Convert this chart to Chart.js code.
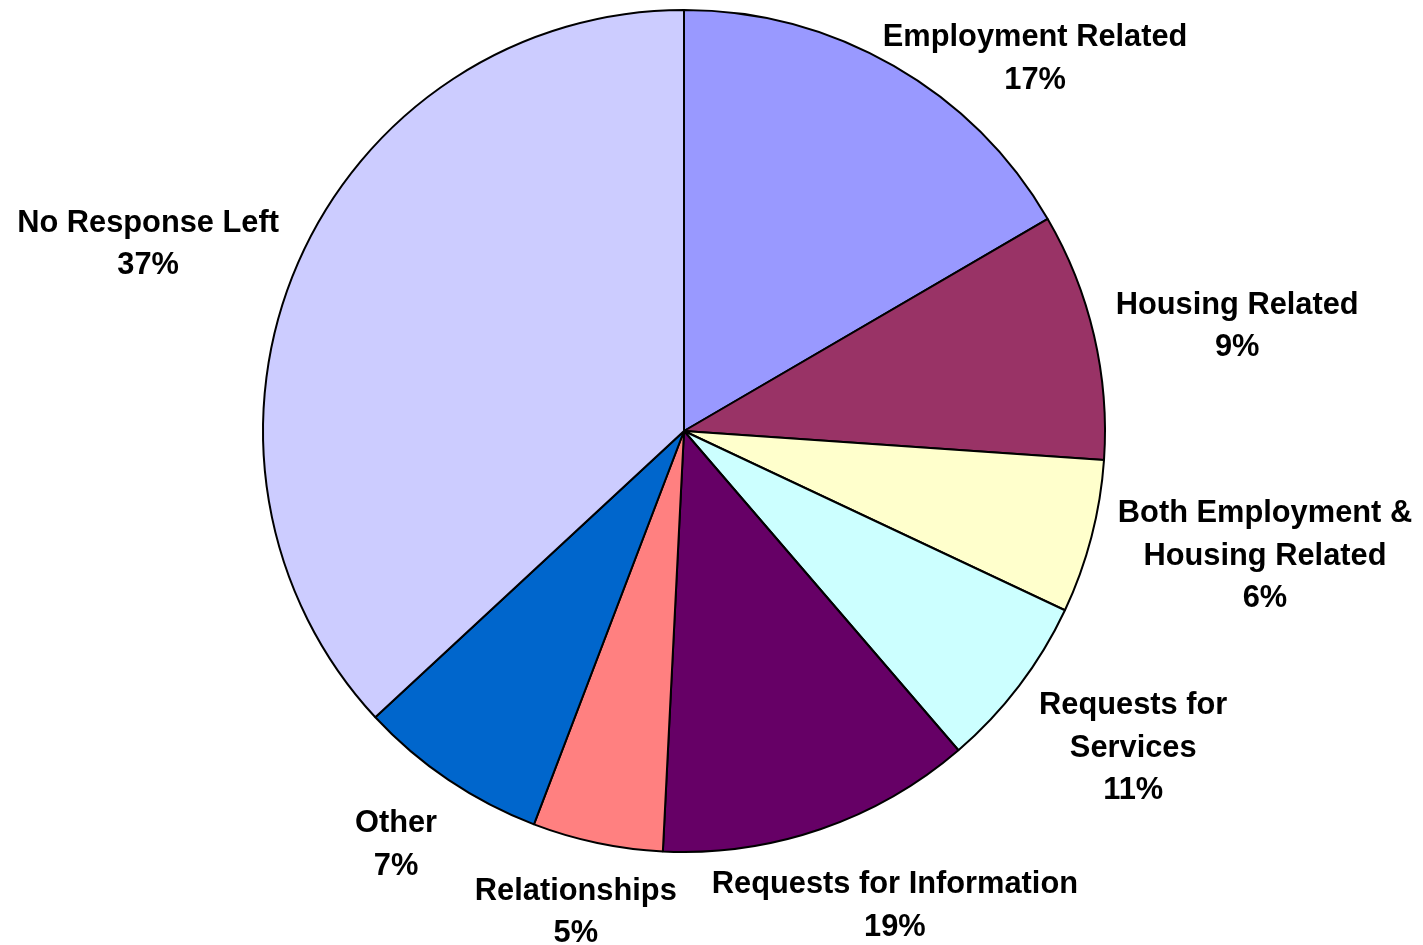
<!DOCTYPE html>
<html>
<head>
<meta charset="utf-8">
<script src="https://cdn.jsdelivr.net/npm/chart.js@4/dist/chart.umd.min.js"></script>
<style>
html,body{margin:0;padding:0;background:#fff;}
#wrap{width:1423px;height:945px;position:relative;}
</style>
</head>
<body>
<div id="wrap"><canvas id="c" width="1423" height="945"></canvas></div>
<script>
// Categories (clockwise from 12 o'clock)
const categories = ["Employment Related","Housing Related","Both Employment & Housing Related","Requests for Services","Requests for Information","Relationships","Other","No Response Left"];
// Slice sizes (percent of circle)
const values = [16.6, 9.5, 5.9, 6.7, 12.1, 5.0, 7.3, 36.9];
// Label text shown on the chart
const labelLines = [
  ["Employment Related","17%"],
  ["Housing Related","9%"],
  ["Both Employment &","Housing Related","6%"],
  ["Requests for","Services","11%"],
  ["Requests for Information","19%"],
  ["Relationships","5%"],
  ["Other","7%"],
  ["No Response Left","37%"]
];
const colors = ["#9999FF","#993366","#FFFFCC","#CCFFFF","#660066","#FF8080","#0066CC","#CCCCFF"];
// label anchors relative to pie center, in units of radius
const labelOffsets = [[0.834,-0.891],[1.314,-0.255],[1.380,0.290],[1.067,0.746],[0.501,1.121],[-0.257,1.137],[-0.684,0.976],[-1.273,-0.450]];

const labelPlugin = {
  id:'labels',
  afterDraw(chart){
    const meta = chart.getDatasetMeta(0);
    const arc = meta.data[0];
    const cx = arc.x, cy = arc.y, r = arc.outerRadius;
    const ctx = chart.ctx;
    ctx.save();
    ctx.font = 'bold 30.8px "Liberation Sans", Arial, sans-serif';
    ctx.fillStyle = '#000';
    ctx.textAlign = 'center';
    ctx.textBaseline = 'middle';
    const lh = 42.5;
    labelLines.forEach((lines,i)=>{
      const x = cx + labelOffsets[i][0]*r;
      const y = cy + labelOffsets[i][1]*r + 3;
      const y0 = y - (lines.length-1)*lh/2;
      lines.forEach((t,j)=>ctx.fillText(t, x, y0 + j*lh));
    });
    ctx.restore();
  }
};

new Chart(document.getElementById('c'), {
  type:'pie',
  data:{
    labels:categories,
    datasets:[{
      data:values,
      backgroundColor:colors,
      borderColor:'#000',
      borderWidth:2,
      hoverOffset:0
    }]
  },
  options:{
    responsive:false,
    animation:false,
    layout:{padding:{top:9,bottom:92,left:0,right:55}},
    plugins:{legend:{display:false},tooltip:{enabled:false}},
    events:[]
  },
  plugins:[labelPlugin]
});
</script>
</body>
</html>
